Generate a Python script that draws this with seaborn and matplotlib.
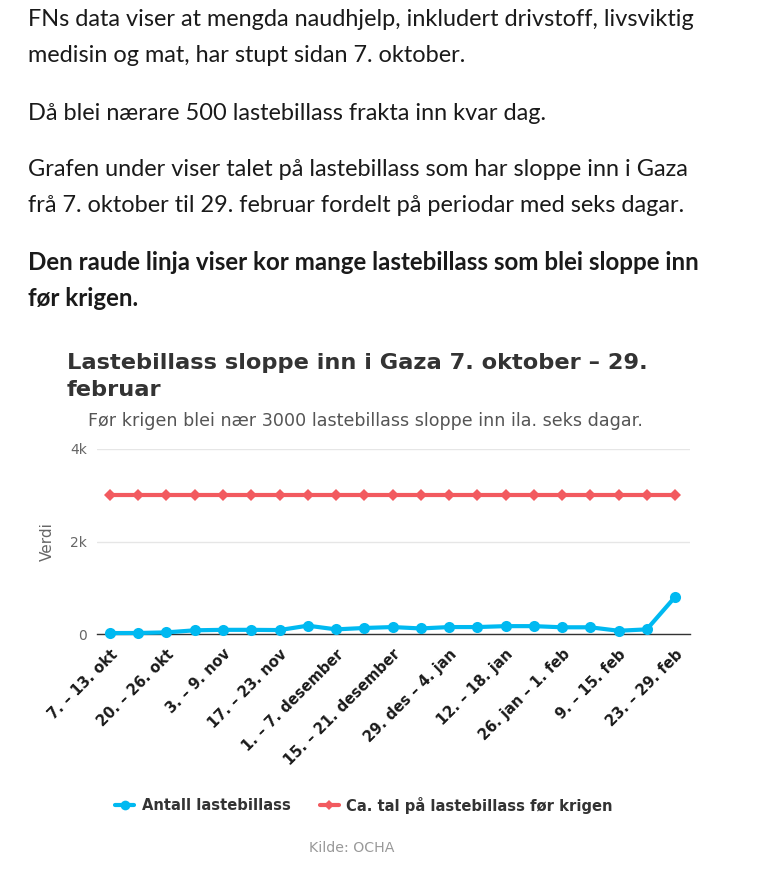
import matplotlib
matplotlib.use("Agg")
import matplotlib.pyplot as plt
import seaborn as sns
import pandas as pd
from matplotlib.lines import Line2D

categories = [
    "7. – 13. okt", "14. – 19. okt", "20. – 26. okt", "27. okt – 2. nov",
    "3. – 9. nov", "10. – 16. nov", "17. – 23. nov", "24. – 30. nov",
    "1. – 7. desember", "8. – 14. desember", "15. – 21. desember",
    "22. – 28. desember", "29. des – 4. jan", "5. – 11. jan",
    "12. – 18. jan", "19. – 25. jan", "26. jan – 1. feb", "2. – 8. feb",
    "9. – 15. feb", "16. – 22. feb", "23. – 29. feb",
]
antall = [20, 22, 35, 80, 90, 90, 85, 180, 100, 130, 150, 120, 150, 150,
          170, 170, 145, 145, 70, 100, 800]
for_krigen = [3000] * 21
series_names = ["Antall lastebillass", "Ca. tal på lastebillass før krigen"]
yticks = [0, 2000, 4000]
ytick_labels = ["0", "2k", "4k"]

BLUE = "#00b9f1"
RED = "#f25a5f"

sns.set_theme(style="white")
plt.rcParams["font.family"] = ["DejaVu Sans"]

df = pd.DataFrame({
    "x": list(range(len(categories))) * 2,
    "Verdi": antall + for_krigen,
    "serie": [series_names[0]] * len(categories) + [series_names[1]] * len(categories),
})

fig = plt.figure(figsize=(7.67, 8.76), dpi=100)

# Article text
text_lines = [
    (20, "FNs data viser at mengda naudhjelp, inkludert drivstoff, livsviktig", "normal"),
    (56, "medisin og mat, har stupt sidan 7. oktober.", "normal"),
    (113, "Då blei nærare 500 lastebillass frakta inn kvar dag.", "normal"),
    (170, "Grafen under viser talet på lastebillass som har sloppe inn i Gaza", "normal"),
    (206, "frå 7. oktober til 29. februar fordelt på periodar med seks dagar.", "normal"),
    (263, "Den raude linja viser kor mange lastebillass som blei sloppe inn", "bold"),
    (299, "før krigen.", "bold"),
]
for y, t, w in text_lines:
    fig.text(28 / 767, 1 - y / 876, t, fontsize=16.9 if w == "normal" else 17.4,
             fontweight=w, family=["Lato", "DejaVu Sans"], color="#1a1a1a",
             va="center", ha="left")

# Chart title and subtitle
fig.text(67 / 767, 1 - 363 / 876, "Lastebillass sloppe inn i Gaza 7. oktober – 29.",
         fontsize=16.2, fontweight="bold", color="#333333", va="center", ha="left")
fig.text(67 / 767, 1 - 390 / 876, "februar",
         fontsize=16.2, fontweight="bold", color="#333333", va="center", ha="left")
fig.text(88 / 767, 1 - 421 / 876,
         "Før krigen blei nær 3000 lastebillass sloppe inn ila. seks dagar.",
         fontsize=12.6, color="#555555", va="center", ha="left")

ax = fig.add_axes([97 / 767, 1 - 634 / 876, (690 - 97) / 767, (634 - 449) / 876])

sns.lineplot(data=df, x="x", y="Verdi", hue="serie", style="serie",
             palette={series_names[0]: BLUE, series_names[1]: RED},
             markers={series_names[0]: "o", series_names[1]: "D"},
             dashes=False, linewidth=3, markersize=8, markeredgewidth=0,
             legend=False, ax=ax, clip_on=False)
for line in ax.lines:
    if matplotlib.colors.to_hex(line.get_color()) == RED:
        line.set_markersize(6.5)
        line.set_zorder(2)
    else:
        line.set_zorder(3)

ax.set_xlim(-0.46, 20.53)
ax.set_ylim(0, 4000)
ax.set_yticks(yticks)
ax.set_yticklabels(ytick_labels, color="#666666", fontsize=10)
ax.tick_params(axis="y", length=0, pad=7)
ax.set_xticks(range(0, len(categories), 2))
ax.set_xticklabels(categories[::2], rotation=45, ha="right", rotation_mode="anchor",
                   fontweight="bold", fontsize=10.5, color="#1a1a1a")
ax.tick_params(axis="x", length=0, pad=9)
ax.set_xlabel("")
ax.set_ylabel("Verdi", color="#666666", fontsize=11, labelpad=11)
ax.grid(axis="y", color="#e6e6e6", linewidth=1)
ax.grid(axis="x", visible=False)
for s in ["left", "right", "top"]:
    ax.spines[s].set_visible(False)
ax.spines["bottom"].set_color("#333333")
ax.spines["bottom"].set_linewidth(1)

handles = [
    Line2D([0], [0], color=BLUE, lw=3, marker="o", markersize=7, markeredgewidth=0),
    Line2D([0], [0], color=RED, lw=3, marker="D", markersize=5.5, markeredgewidth=0),
]
leg = fig.legend(handles, series_names, loc="center", bbox_to_anchor=(364 / 767, 1 - 805 / 876),
                 ncol=2, frameon=False, handlelength=1.3, handletextpad=0.5, columnspacing=2.0,
                 prop={"weight": "bold", "size": 10.6})
for t in leg.get_texts():
    t.set_color("#333333")

fig.text(352 / 767, 1 - 848 / 876, "Kilde: OCHA", fontsize=10.2, color="#999999",
         ha="center", va="center")

fig.savefig("out.png", dpi=100, facecolor="white")
